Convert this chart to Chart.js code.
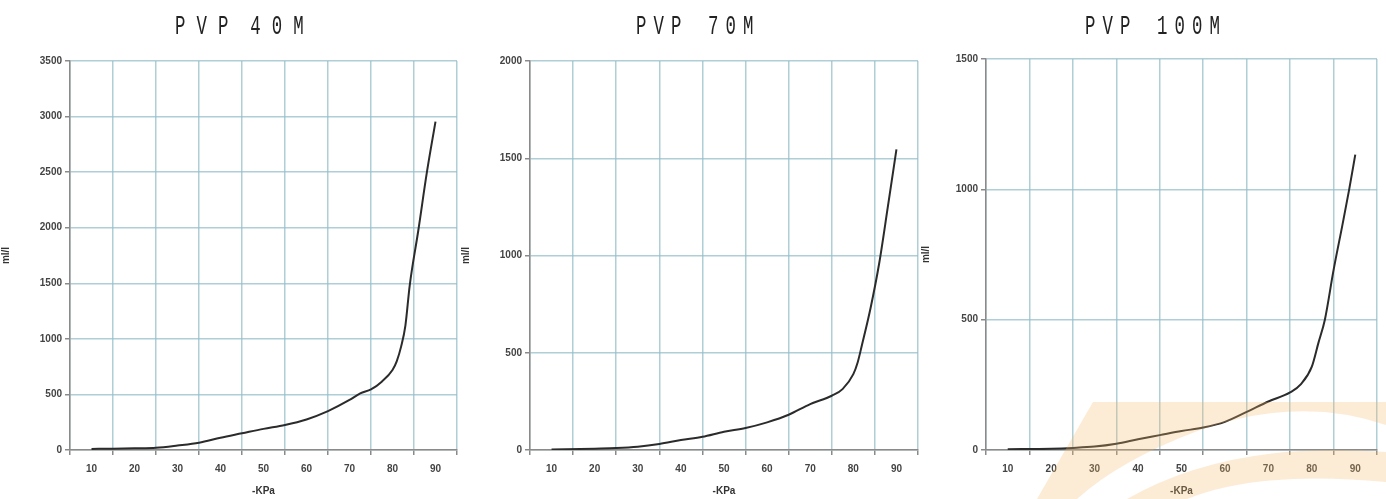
<!DOCTYPE html>
<html><head><meta charset="utf-8">
<script src="https://cdn.jsdelivr.net/npm/chart.js@4.4.0/dist/chart.umd.min.js"></script>
<style>
html,body{margin:0;padding:0;background:#fff;width:1386px;height:499px;overflow:hidden;position:relative}
.box{position:absolute;top:0;height:499px}
.title{position:absolute;top:13px;font-family:"Liberation Mono","DejaVu Sans Mono",monospace;font-size:28px;line-height:28px;color:#222;white-space:pre;transform:scaleX(0.62);transform-origin:left top}
#t1{letter-spacing:17.9px;word-spacing:-17.5px}
#t2,#t3{letter-spacing:11.4px;word-spacing:3.2px}
svg{position:absolute;left:0;top:0;pointer-events:none}
</style></head><body>
<div class="box" style="left:0;width:460px"><canvas id="c1" width="460" height="499"></canvas></div>
<div class="box" style="left:460px;width:460px"><canvas id="c2" width="460" height="499"></canvas></div>
<div class="box" style="left:920px;width:466px"><canvas id="c3" width="466" height="499"></canvas></div>
<div class="title" id="t1" style="left:175px"></div>
<div class="title" id="t2" style="left:636px"></div>
<div class="title" id="t3" style="left:1085px"></div>
<svg width="1386" height="499">
<path d="M1093,402 L1386,402 L1386,425 Q1300,395 1200,430 Q1120,460 1077,499 L1037,499 Z" fill="#f4b868" fill-opacity="0.28"/>
<path d="M1127,499 Q1230,440 1386,452 L1386,482 Q1260,470 1187,499 Z" fill="#f4b868" fill-opacity="0.28"/>
</svg>
<script>
const titles = ["PVP 40 M", "PVP 70M", "PVP 100M"];
const xTitle = "-KPa";
const yTitle = "ml/l";
const xLabels = [10, 20, 30, 40, 50, 60, 70, 80, 90];
const xGrid = [5, 15, 25, 35, 45, 55, 65, 75, 85, 95];

const pvp40X = [10, 15, 20, 25, 30, 35, 40, 45, 50, 55, 60, 65, 70, 72.5, 75, 77.5, 80, 81, 82, 83, 84, 86, 88, 90];
const pvp40Y = [10, 12, 15, 20, 40, 65, 110, 150, 190, 225, 275, 350, 450, 510, 545, 615, 720, 800, 930, 1120, 1480, 1975, 2500, 2955];

const pvp70X = [10, 20, 25, 30, 35, 40, 45, 50, 55, 60, 65, 70, 75, 77.5, 80, 81, 82, 84, 86, 88, 90];
const pvp70Y = [2, 7, 10, 17, 31, 51, 68, 94, 113, 142, 181, 236, 279, 313, 390, 450, 540, 730, 960, 1250, 1546];

const pvp100X = [10, 20, 25, 30, 35, 40, 45, 50, 55, 60, 65, 70, 75, 77.5, 80, 81.5, 83, 85, 87, 88.6, 90];
const pvp100Y = [3, 5, 8, 13, 24, 41, 57, 73, 86, 108, 146, 186, 221, 253, 320, 410, 500, 690, 860, 1000, 1133];

const yMaxes = [3500, 2000, 1500];
const ySteps = [500, 500, 500];

// title 1: the gap before the final "M" is tighter than the first word gap
(function(){
  const t1 = document.getElementById('t1');
  const parts = titles[0].split(' ');
  t1.innerHTML = '';
  parts.forEach((p, i) => {
    if (i > 0) {
      const sp = document.createElement('span');
      sp.textContent = ' ';
      if (i === parts.length - 1) sp.style.wordSpacing = '-34.5px';
      t1.appendChild(sp);
    }
    t1.appendChild(document.createTextNode(p));
  });
  document.getElementById('t2').textContent = titles[1];
  document.getElementById('t3').textContent = titles[2];
})();

const gridColor = 'rgba(150,190,200,0.75)';
const axisColor = '#8a8a8a';
const tickFont = {family: '"Liberation Sans", Arial, sans-serif', size: 10, weight: 'bold'};
const allXTicks = [...xLabels, ...xGrid].sort((a,b)=>a-b);

function makeChart(id, xs, ys, yMax, yStep, leftW, rightPad, topPad) {
  new Chart(document.getElementById(id), {
    type: 'line',
    data: {datasets: [{
      data: xs.map((x,i)=>({x:x, y:ys[i]})),
      borderColor: '#2b2b2b', borderWidth: 2, pointRadius: 0,
      cubicInterpolationMode: 'monotone', fill: false
    }]},
    options: {
      responsive: false, animation: false,
      layout: {padding: {top: topPad, right: rightPad, left: 0, bottom: 2}},
      plugins: {legend: {display: false}, tooltip: {enabled: false}},
      scales: {
        x: {
          type: 'linear', min: 5, max: 95,
          afterBuildTicks: s => { s.ticks = allXTicks.map(v=>({value:v})); },
          afterFit: s => { s.paddingLeft = 0; s.paddingRight = 0; },
          ticks: {autoSkip: false, maxRotation: 0, font: tickFont, color: '#444', padding: 8,
            callback: v => xLabels.includes(v) ? String(v) : ''},
          grid: {
            color: c => (c.tick && xLabels.includes(c.tick.value)) ? 'rgba(0,0,0,0)' : gridColor,
            tickColor: c => (c.tick && xLabels.includes(c.tick.value)) ? 'rgba(0,0,0,0)' : axisColor,
            lineWidth: 1.5, tickLength: 5
          },
          border: {color: axisColor, width: 1.5},
          title: {display: true, text: xTitle, font: tickFont, color: '#333', padding: {top: 2, bottom: 0}}
        },
        y: {
          min: 0, max: yMax,
          ticks: {stepSize: yStep, font: tickFont, color: '#444', padding: 3, callback: v => String(v)},
          grid: {color: gridColor, lineWidth: 1.5, tickLength: 5, tickColor: axisColor},
          border: {color: axisColor, width: 1.5},
          title: {display: true, text: yTitle, font: tickFont, color: '#333', padding: {top: 0, bottom: 4}},
          afterFit: s => { s.width = leftW; }
        }
      }
    }
  });
}
makeChart('c1', pvp40X, pvp40Y, yMaxes[0], ySteps[0], 70, 3, 61);
makeChart('c2', pvp70X, pvp70Y, yMaxes[1], ySteps[1], 70, 2, 61);
makeChart('c3', pvp100X, pvp100Y, yMaxes[2], ySteps[2], 66, 9, 59);
</script>
</body></html>
